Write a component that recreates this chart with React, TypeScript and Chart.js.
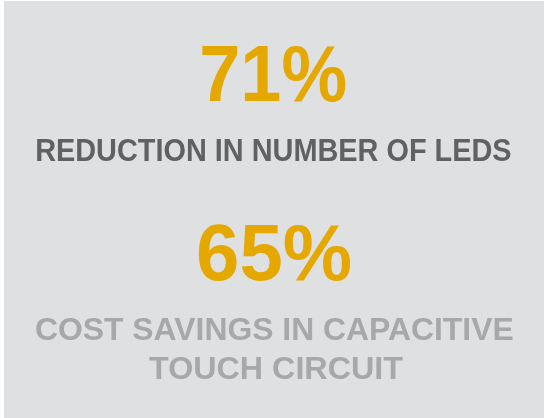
import React, { useEffect, useRef } from "react";
import { Chart, registerables } from "chart.js";

Chart.register(...registerables);

// ---- data ----
const statLabels = ["REDUCTION IN NUMBER OF LEDS", "COST SAVINGS IN CAPACITIVE TOUCH CIRCUIT"];
const statValues = [71, 65];
const captionLines = [["REDUCTION IN NUMBER OF LEDS"], ["COST SAVINGS IN CAPACITIVE", "TOUCH CIRCUIT"]];

// ---- styling / layout ----
const BG = "#dfe0e2";
const ORANGE = "#e5a800";
const captionColors = ["#606163", "#a7a8aa"];
const FONT = "'Liberation Sans', Arial, sans-serif";

// per block: number (cx, baseline, ink width), caption lines (cx, baseline, ink width)
const numberLayout = [
  { cx: 274, base: 101, w: 144 },
  { cx: 274.5, base: 280, w: 153 },
];
const captionLayout = [
  [{ cx: 274, base: 161, w: 474 }],
  [
    { cx: 274.5, base: 340, w: 477 },
    { cx: 276, base: 379, w: 254 },
  ],
];

function drawFit(
  ctx: CanvasRenderingContext2D,
  text: string,
  font: string,
  color: string,
  cx: number,
  base: number,
  targetW: number
) {
  ctx.save();
  ctx.font = font;
  ctx.fillStyle = color;
  ctx.textAlign = "left";
  ctx.textBaseline = "alphabetic";
  const m = ctx.measureText(text);
  const abL = m.actualBoundingBoxLeft;
  const abR = m.actualBoundingBoxRight;
  const inkW = abL + abR;
  const sx = targetW / inkW;
  ctx.translate(cx, base);
  ctx.scale(sx, 1);
  ctx.fillText(text, (abL - abR) / 2, 0);
  ctx.restore();
}

const textPlugin = {
  id: "statText",
  beforeDraw(chart: any) {
    const ctx: CanvasRenderingContext2D = chart.ctx;
    ctx.save();
    ctx.fillStyle = "#ffffff";
    ctx.fillRect(0, 0, chart.width, chart.height);
    ctx.fillStyle = BG;
    ctx.fillRect(4, 1, chart.width - 4, chart.height - 1);
    ctx.restore();
  },
  afterDraw(chart: any) {
    const ctx: CanvasRenderingContext2D = chart.ctx;
    const values = chart.data.datasets[0].data as number[];
    values.forEach((v, i) => {
      const nl = numberLayout[i];
      drawFit(ctx, `${v}%`, `bold 80px ${FONT}`, ORANGE, nl.cx, nl.base, nl.w);
      captionLines[i].forEach((line, j) => {
        const cl = captionLayout[i][j];
        drawFit(ctx, line, `bold 31px ${FONT}`, captionColors[i], cl.cx, cl.base, cl.w);
      });
    });
  },
};

export default function App() {
  const ref = useRef<HTMLCanvasElement | null>(null);
  useEffect(() => {
    document.body.style.margin = "0";
    const canvas = ref.current;
    if (!canvas) return;
    const chart = new Chart(canvas, {
      type: "bar",
      data: {
        labels: statLabels,
        datasets: [
          {
            data: statValues,
            backgroundColor: "rgba(0,0,0,0)",
            borderWidth: 0,
          },
        ],
      },
      options: {
        animation: false,
        responsive: false,
        events: [],
        plugins: {
          legend: { display: false },
          tooltip: { enabled: false },
        },
        scales: {
          x: { display: false },
          y: { display: false, min: 0, max: 100 },
        },
      },
      plugins: [textPlugin],
    });
    return () => chart.destroy();
  }, []);
  return (
    <div style={{ width: 544, height: 418 }}>
      <canvas ref={ref} width={544} height={418} style={{ display: "block" }} />
    </div>
  );
}
